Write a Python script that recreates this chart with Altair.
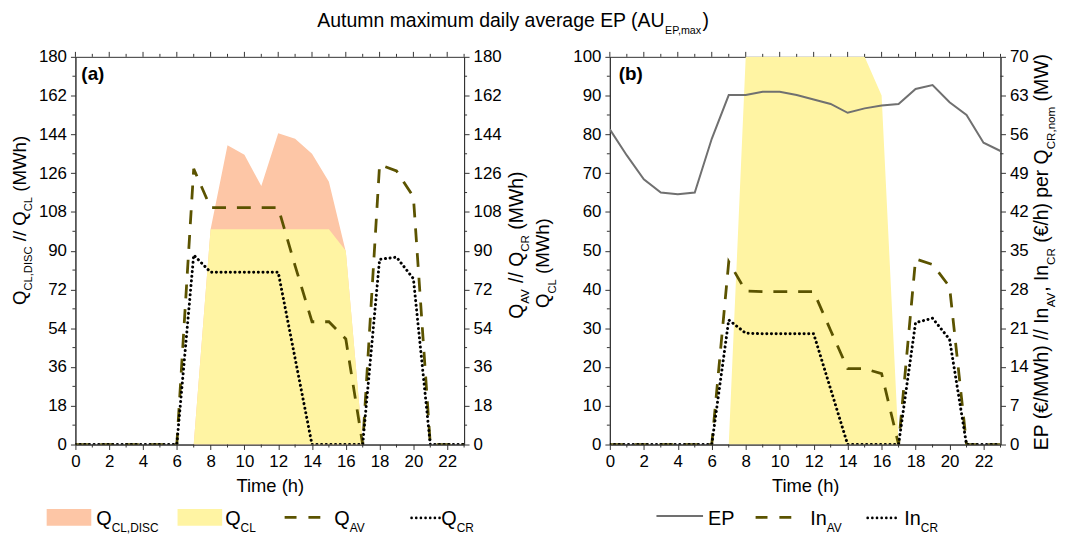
import altair as alt
import pandas as pd

FONT = "Liberation Sans"

# ---------------- data ----------------
hours = list(range(24))
q_cl = [0, 0, 0, 0, 0, 0, 0, 0, 100, 100, 100, 100, 100, 100, 100, 100, 90, 0, 0, 0, 0, 0, 0, 0]
q_cl_disc = [0, 0, 0, 0, 0, 0, 0, 0, 100, 139, 134.5, 120, 144.5, 142, 135, 122, 89.5, 0, 0, 0, 0, 0, 0, 0]
q_av = [0, 0, 0, 0, 0, 0, 0, 128, 110, 110, 110, 110, 110, 83, 57, 57, 49, 0, 130, 127, 115, 0, 0, 0]
q_cr = [0, 0, 0, 0, 0, 0, 0, 88, 80, 80, 80, 80, 80, 40, 0, 0, 0, 0, 86, 87, 77, 0, 0, 0]
ep = [56.9, 52.2, 47.9, 45.5, 45.2, 45.5, 55.2, 63.1, 63.1, 63.7, 63.7, 63.1, 62.3, 61.5,
      59.9, 60.7, 61.2, 61.5, 64.2, 64.9, 61.8, 59.5, 54.5, 53.0]
in_av = [0, 0, 0, 0, 0, 0, 0, 33, 27.7, 27.6, 27.6, 27.6, 27.6, 20.6, 13.7, 13.7, 12.8, 0, 33.5, 32.5, 28.5, 0, 0, 0]
in_cr = [0, 0, 0, 0, 0, 0, 0, 22.5, 20.1, 20, 20, 20, 20, 10, 0, 0, 0, 0, 22, 22.8, 19, 0, 0, 0]

x_ticks = list(range(0, 23, 2))
x_minor = list(range(1, 24, 2))
ya_ticks = list(range(0, 181, 18))
ya_minor = [9 + 18 * i for i in range(10)]
yb_left_ticks = list(range(0, 101, 10))
yb_left_minor = [5 + 10 * i for i in range(10)]
yb_right_ticks = list(range(0, 71, 7))
yb_right_minor = [3.5 + 7 * i for i in range(10)]

df = pd.DataFrame({"hour": hours, "q_cl": q_cl, "q_cl_disc": q_cl_disc, "q_av": q_av,
                   "q_cr": q_cr, "ep": ep, "in_av": in_av, "in_cr": in_cr})

# ---------------- style ----------------
W_A, W_B, H = 392, 394, 391
C_OR = "#FDC6A6"
C_YE = "#FFF4A3"
C_DASH = "#5B5300"
C_EP = "#707070"
C_AX = "#333333"
DASH = [14, 11]
DOT = [0.1, 4.6]

AW = {' ': 278, '(': 333, ')': 333, ',': 278, '/': 278, '.': 278, '-': 333, '€': 556,
      'A': 667, 'B': 667, 'C': 722, 'D': 722, 'E': 667, 'F': 611, 'G': 778, 'H': 722, 'I': 278,
      'J': 500, 'K': 667, 'L': 556, 'M': 833, 'N': 722, 'O': 778, 'P': 667, 'Q': 778, 'R': 722,
      'S': 667, 'T': 611, 'U': 722, 'V': 667, 'W': 944, 'X': 667, 'Y': 667, 'Z': 611,
      'a': 556, 'b': 556, 'c': 500, 'd': 556, 'e': 556, 'f': 278, 'g': 556, 'h': 556, 'i': 222,
      'j': 222, 'k': 500, 'l': 222, 'm': 833, 'n': 556, 'o': 556, 'p': 556, 'q': 556, 'r': 333,
      's': 500, 't': 278, 'u': 556, 'v': 500, 'w': 722, 'x': 500, 'y': 500, 'z': 500}


def tw(s, size):
    return sum(AW.get(c, 556) for c in s) / 1000.0 * size


ANNOT = pd.DataFrame({"k": [0]})


def txt(s, x, y, size, angle=0, weight="normal", align="left", color="black"):
    kw = dict(text=s, font=FONT, fontSize=size, align=align, baseline="alphabetic",
              fontWeight=weight, color=color)
    if angle:
        kw["angle"] = angle
    return alt.Chart(ANNOT).mark_text(**kw).encode(x=alt.value(x), y=alt.value(y))


def rich_width(segs, size, ratio=0.6):
    return sum(tw(s, size * ratio if sub else size) for s, sub in segs)


def rich(segs, x, y, size, angle=0, ratio=0.6, drop=0.35):
    out = []
    pos = 0.0
    for s, sub in segs:
        fs = size * ratio if sub else size
        d = size * drop if sub else 0.0
        lead = len(s) - len(s.lstrip(' '))
        trail = len(s) - len(s.rstrip(' '))
        core = s.strip(' ')
        pos += tw(' ' * lead, fs)
        if core:
            if angle:
                out.append(txt(core, x + d, y - pos, fs, angle=angle))
            else:
                out.append(txt(core, x + pos, y + d, fs))
        pos += tw(core, fs) + tw(' ' * trail, fs)
    return out


def vtitle(segs, x, center, size):
    w = rich_width(segs, size)
    return rich(segs, x, center + w / 2.0, size, angle=270)


XS = alt.Scale(domain=[0, 23], nice=False, zero=False)
X_AX = alt.Axis(values=x_ticks, title="Time (h)", titlePadding=7, format="d")


def xenc():
    return alt.X("hour:Q", scale=XS, axis=X_AX)


def yscale(lo, hi):
    return alt.Scale(domain=[lo, hi], nice=False, zero=False)


def minor_y(vals, lo, hi, side, width):
    d = pd.DataFrame({"v": vals})
    if side == "left":
        xx, xx2 = 0, -3
    else:
        xx, xx2 = width, width + 3
    return alt.Chart(d).mark_rule(color=C_AX, strokeWidth=1).encode(
        y=alt.Y("v:Q", scale=yscale(lo, hi), axis=None),
        x=alt.value(xx), x2=alt.value(xx2))


def x_ticks_layers():
    d_min = pd.DataFrame({"hour": x_minor})
    d_maj = pd.DataFrame({"hour": x_ticks})
    bottom_minor = alt.Chart(d_min).mark_rule(color=C_AX, strokeWidth=1).encode(
        x=xenc(), y=alt.value(H), y2=alt.value(H + 3))
    top_major = alt.Chart(d_maj).mark_rule(color=C_AX, strokeWidth=1).encode(
        x=xenc(), y=alt.value(0), y2=alt.value(-5))
    top_minor = alt.Chart(d_min).mark_rule(color=C_AX, strokeWidth=1).encode(
        x=xenc(), y=alt.value(0), y2=alt.value(-3))
    return [bottom_minor, top_major, top_minor]


def legend_rect(x0, x1, y0, y1, color):
    return alt.Chart(ANNOT).mark_rect(color=color).encode(
        x=alt.value(x0), x2=alt.value(x1), y=alt.value(y0), y2=alt.value(y1))


def legend_line(x0, x1, y, color, dash=None, width=2.8, cap="butt"):
    kw = dict(color=color, strokeWidth=width, strokeCap=cap)
    if dash:
        kw["strokeDash"] = dash
    return alt.Chart(ANNOT).mark_rule(**kw).encode(
        x=alt.value(x0), x2=alt.value(x1), y=alt.value(y))


# ---------------- panel (a) ----------------
base = alt.Chart(df)
sa = yscale(0, 180)
a_orange = base.mark_area(color=C_OR, clip=True).encode(
    x=xenc(), y=alt.Y("q_cl_disc:Q", scale=sa,
                      axis=alt.Axis(orient="left", values=ya_ticks, title=None)))
a_yellow = base.mark_area(color=C_YE, clip=True).encode(
    x=xenc(), y=alt.Y("q_cl:Q", scale=sa, axis=None))
a_dash = base.mark_line(color=C_DASH, strokeDash=DASH, strokeWidth=2.8, clip=True).encode(
    x=xenc(), y=alt.Y("q_av:Q", scale=sa,
                      axis=alt.Axis(orient="right", values=ya_ticks, title=None)))
a_dot = base.mark_line(color="black", strokeDash=DOT, strokeCap="round", strokeWidth=3,
                       clip=True).encode(
    x=xenc(), y=alt.Y("q_cr:Q", scale=sa, axis=None))

LY = 472  # legend baseline (relative to plot top)
a_ann = []
a_ann.append(txt("(a)", 6, 23, 19, weight="bold"))
a_ann += rich([("Autumn maximum daily average EP (AU", False), ("EP,max", True), (")", False)],
              244, -30, 19.6, ratio=0.55)
a_ann += vtitle([("Q", False), ("CL,DISC", True), (" // Q", False), ("CL", True), (" (MWh)", False)],
                -50, 165, 18.8)
a_ann += vtitle([("Q", False), ("AV", True), (" // Q", False), ("CR", True), (" (MWh)", False)],
                451, 190, 19.5)
a_ann.append(legend_rect(-29, 16, 456, 473, C_OR))
a_ann += rich([("Q", False), ("CL,DISC", True)], 21, LY, 20)
a_ann.append(legend_rect(103, 148, 456, 473, C_YE))
a_ann += rich([("Q", False), ("CL", True)], 151, LY, 20)
a_ann.append(legend_line(211, 249, 464.5, C_DASH, dash=[12, 12]))
a_ann += rich([("Q", False), ("AV", True)], 261, LY, 20)
a_ann.append(legend_line(339, 368, 465, "black", dash=DOT, width=2.6, cap="round"))
a_ann += rich([("Q", False), ("CR", True)], 369, LY, 20)

panel_a = alt.layer(
    a_orange, a_yellow, a_dash, a_dot,
    minor_y(ya_minor, 0, 180, "left", W_A), minor_y(ya_minor, 0, 180, "right", W_A),
    *x_ticks_layers(), *a_ann
).resolve_scale(y="independent").properties(width=W_A, height=H)

# ---------------- panel (b) ----------------
sl = yscale(0, 100)
sr = yscale(0, 70)
b_yellow = base.mark_area(color=C_YE, clip=True).encode(
    x=xenc(), y=alt.Y("q_cl:Q", scale=sl,
                      axis=alt.Axis(orient="left", values=yb_left_ticks, title=None)))
b_ep = base.mark_line(color=C_EP, strokeWidth=2, clip=True).encode(
    x=xenc(), y=alt.Y("ep:Q", scale=sr,
                      axis=alt.Axis(orient="right", values=yb_right_ticks, title=None)))
b_dash = base.mark_line(color=C_DASH, strokeDash=DASH, strokeWidth=2.8, clip=True).encode(
    x=xenc(), y=alt.Y("in_av:Q", scale=sr, axis=None))
b_dot = base.mark_line(color="black", strokeDash=DOT, strokeCap="round", strokeWidth=3,
                       clip=True).encode(
    x=xenc(), y=alt.Y("in_cr:Q", scale=sr, axis=None))

b_ann = []
b_ann.append(txt("(b)", 9, 23, 19, weight="bold"))
b_ann += vtitle([("Q", False), ("CL", True), (" (MWh)", False)], -61, 208, 18.8)
b_ann += vtitle([("EP (€/MWh) // In", False), ("AV", True), (", In", False), ("CR", True),
                 (" (€/h) per Q", False), ("CR,nom", True), (" (MW)", False)], 442, 197, 19.5)
b_ann.append(legend_line(47, 94, 463, C_EP, width=2))
b_ann += rich([("EP", False)], 99, LY, 20)
b_ann.append(legend_line(147, 187, 464.5, C_DASH, dash=[12, 12]))
b_ann += rich([("In", False), ("AV", True)], 202, LY, 20)
b_ann.append(legend_line(260, 292, 465, "black", dash=DOT, width=2.6, cap="round"))
b_ann += rich([("In", False), ("CR", True)], 297, LY, 20)

panel_b = alt.layer(
    b_yellow, b_ep, b_dash, b_dot,
    minor_y(yb_left_minor, 0, 100, "left", W_B), minor_y(yb_right_minor, 0, 70, "right", W_B),
    *x_ticks_layers(), *b_ann
).resolve_scale(y="independent").properties(width=W_B, height=H)

chart = alt.hconcat(panel_a, panel_b, spacing=147, bounds="flush").properties(
    padding={"left": 2, "top": 0, "right": 0, "bottom": 0},
    background="white",
).configure_axis(
    labelFont=FONT, labelFontSize=17, labelColor="black", labelPadding=4,
    labelFlush=False, labelOverlap=False,
    tickColor=C_AX, tickSize=5, domainColor=C_AX, grid=False,
    titleFont=FONT, titleFontSize=18.5, titleFontWeight="normal", titleColor="black",
).configure_view(stroke=C_AX, strokeWidth=1)

chart.save("out.html", embed_options={"renderer": "svg", "actions": False})
